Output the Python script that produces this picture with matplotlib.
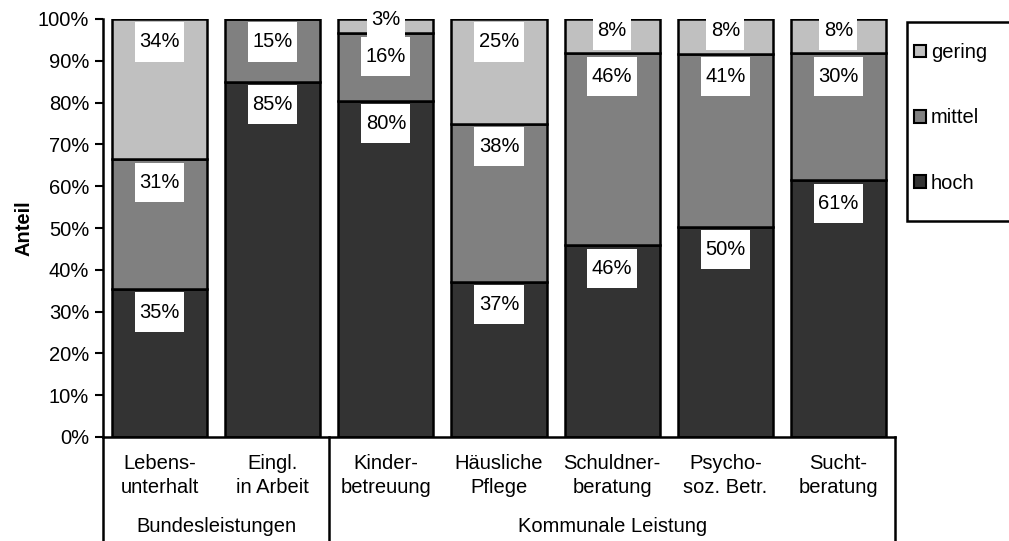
import numpy as np
import matplotlib
matplotlib.use("Agg")
import matplotlib.pyplot as plt
from matplotlib.patches import Rectangle, Patch
from matplotlib.path import Path
from matplotlib.transforms import blended_transform_factory

plt.rcParams['font.family'] = ['Liberation Sans', 'DejaVu Sans']

categories = ['Lebens-\nunterhalt', 'Eingl.\nin Arbeit', 'Kinder-\nbetreuung', 'Häusliche\nPflege',
              'Schuldner-\nberatung', 'Psycho-\nsoz. Betr.', 'Sucht-\nberatung']
groups = ['Bundesleistungen', 'Kommunale Leistung']
group_sizes = [2, 5]

hoch = [35.4, 85.0, 80.4, 37.1, 45.9, 50.3, 61.4]
mittel = [31.0, 15.0, 16.2, 37.8, 45.9, 41.4, 30.4]
gering = [33.6, 0.0, 3.4, 25.1, 8.2, 8.3, 8.2]

series = [('hoch', hoch, '#333333'), ('mittel', mittel, '#808080'), ('gering', gering, '#c0c0c0')]

FS = 14.5


def tall_box(x0, y0, width, height, mutation_size):
    # white label box, wider padding top/bottom than left/right
    px = 0.22 * mutation_size
    py = 0.5 * mutation_size
    x0, y0 = x0 - px, y0 - py
    x1, y1 = x0 + width + 2 * px, y0 + height + 2 * py
    return Path([(x0, y0), (x1, y0), (x1, y1), (x0, y1), (x0, y0)], closed=True)


fig = plt.figure(figsize=(10.09, 5.41), dpi=100)
ax = fig.add_axes([103 / 1009, 1 - 437 / 541, 792 / 1009, 418 / 541])

x = np.arange(len(categories))
bottom = np.zeros(len(categories))
for name, vals, col in series:
    vals = np.array(vals)
    ax.bar(x, vals, bottom=bottom, width=0.84, color=col, edgecolor='black', linewidth=1.8, label=name)
    for xi, b, v in zip(x, bottom, vals):
        if v <= 0:
            continue
        top = b + v
        off = min(5.5, max(0.1, 0.52 * (v - 3)))
        ax.text(xi, top - off, f'{v:.0f}%', ha='center', va='center', fontsize=FS,
                bbox=dict(boxstyle=tall_box, facecolor='white', edgecolor='none'))
    bottom += vals

ax.set_xlim(-0.5, 6.5)
ax.set_ylim(0, 100)
ax.set_yticks(np.arange(0, 101, 10))
ax.set_yticklabels([f'{t}%' for t in range(0, 101, 10)], fontsize=FS)
ax.tick_params(axis='y', direction='out', length=6, width=1.5, pad=4)
ax.set_xticks([])
for s in ['top', 'right']:
    ax.spines[s].set_visible(False)
ax.spines['left'].set_linewidth(1.8)
ax.spines['bottom'].set_linewidth(1.8)
ax.set_ylabel('Anteil', fontsize=FS, fontweight='bold', labelpad=3)

# category axis below
trans = blended_transform_factory(ax.transData, ax.transAxes)
for xi, lab in zip(x, categories):
    ax.text(xi, -0.092, lab, transform=trans, ha='center', va='center', fontsize=FS, linespacing=1.3)

edges = [-0.5]
for n in group_sizes:
    edges.append(edges[-1] + n)
for e in edges:
    ax.plot([e, e], [0, -0.27], transform=trans, color='black', lw=1.8, clip_on=False)
for g, a, b in zip(groups, edges[:-1], edges[1:]):
    ax.text((a + b) / 2, -0.213, g, transform=trans, ha='center', va='center', fontsize=FS)

# legend
fig.patches.append(Rectangle((907 / 1009, 1 - 221 / 541), 120 / 1009, 199 / 541, transform=fig.transFigure,
                             facecolor='white', edgecolor='black', linewidth=1.8))
handles = [Patch(facecolor=c, edgecolor='black', linewidth=1.5, label=n) for n, v, c in series[::-1]]
fig.legend(handles=handles, loc='upper left', bbox_to_anchor=(914 / 1009, 1 - 43 / 541), frameon=False,
           fontsize=FS, handlelength=0.6, handleheight=0.6, handletextpad=0.25, labelspacing=2.3,
           borderaxespad=0, borderpad=0)

fig.savefig('out.png', dpi=100)
